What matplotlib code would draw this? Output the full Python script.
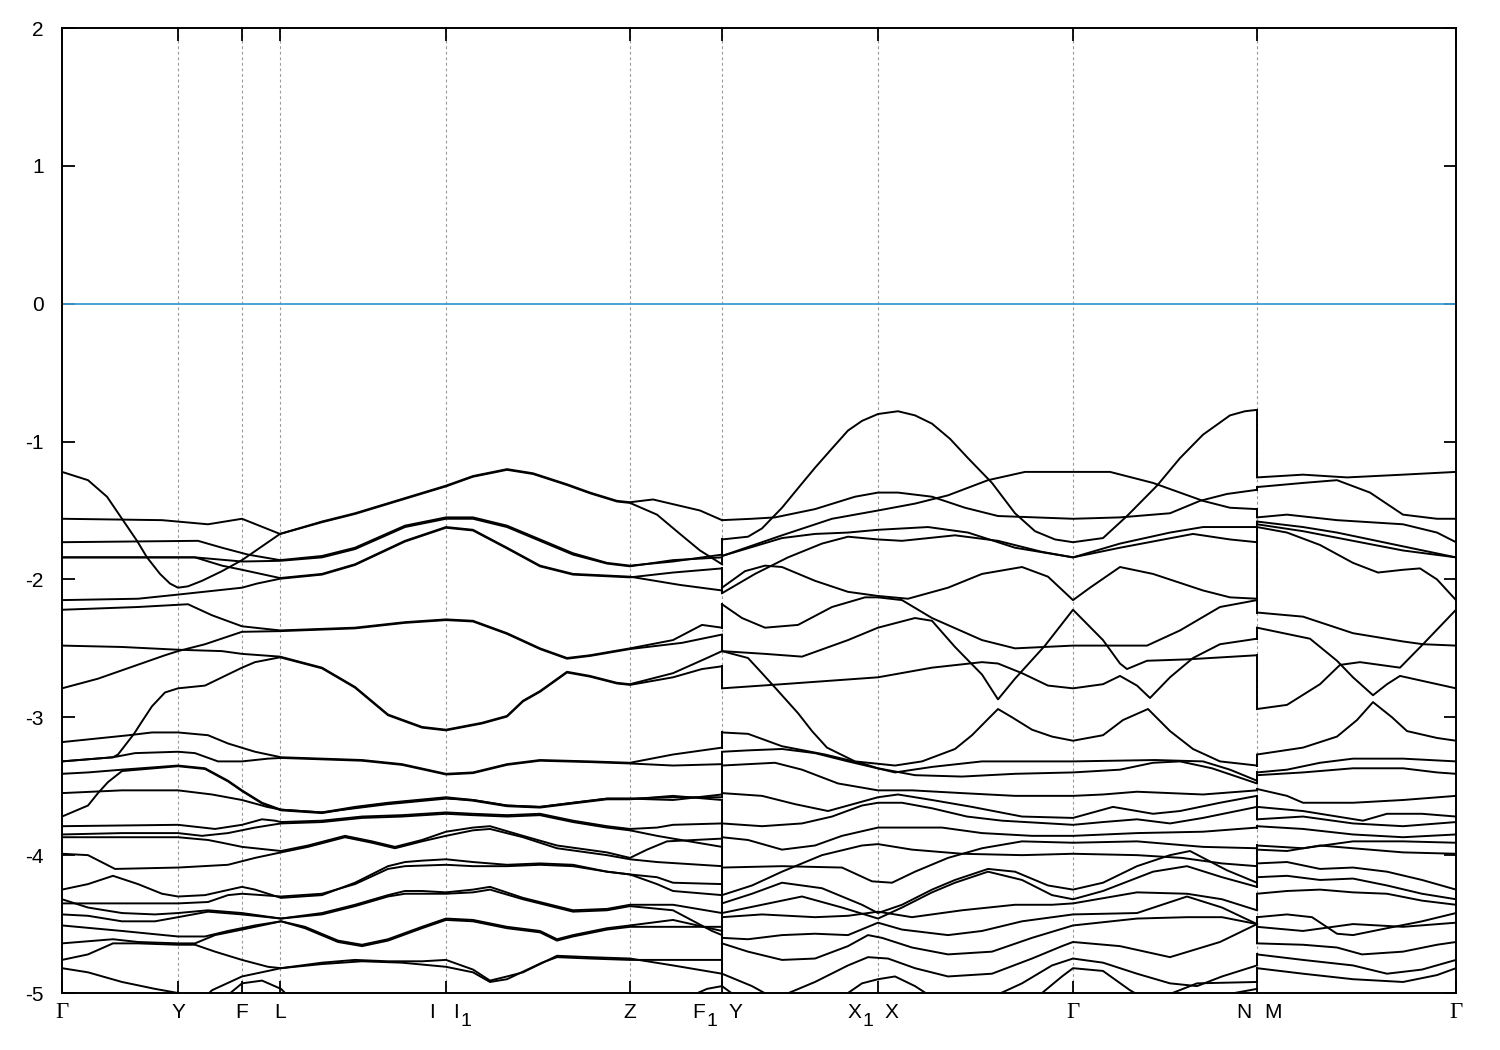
import matplotlib
matplotlib.use("Agg")
import matplotlib.pyplot as plt

plt.rcParams['font.family'] = ['Liberation Sans', 'DejaVu Sans']

# ---- k-path (path length units) ----
kpoint_pos = [0, 116, 180, 218, 384, 568, 660, 816, 1011, 1195, 1394]
kpoint_labels = ['Γ', 'Y', 'F', 'L', 'I I_1', 'Z', 'F_1 Y', 'X_1 X', 'Γ', 'N M', 'Γ']
breaks = [660, 1195]          # discontinuities F1|Y and N|M
fermi_level = 0.0
y_ticks = [-5, -4, -3, -2, -1, 0, 1, 2]

# ---- piece 1 : Γ - Y - F - L - I|I1 - Z - F1 ----
A  = [(0,-1.22),(26,-1.28),(45,-1.40),(60,-1.56),(75,-1.72),(85,-1.84),(98,-1.96),(108,-2.03),(116,-2.06),(126,-2.05),(140,-2.01),(160,-1.94),(180,-1.86),(218,-1.67),(260,-1.58),(293,-1.52),(343,-1.41),(384,-1.32),(411,-1.25),(445,-1.20),(471,-1.23),(505,-1.31),(528,-1.37),(555,-1.43),(568,-1.44),(591,-1.42),(638,-1.50),(660,-1.57)]
B  = [(0,-1.56),(100,-1.57),(146,-1.60),(180,-1.56),(218,-1.67),(260,-1.585),(293,-1.525),(343,-1.415),(384,-1.325),(411,-1.255),(445,-1.205),(471,-1.235),(505,-1.315),(528,-1.375),(555,-1.435),(568,-1.445),(595,-1.53),(618,-1.67),(638,-1.79),(660,-1.89)]
C  = [(0,-1.73),(136,-1.72),(160,-1.77),(186,-1.82),(218,-1.86),(260,-1.83),(293,-1.77),(343,-1.61),(384,-1.55),(411,-1.55),(445,-1.61),(478,-1.71),(511,-1.81),(545,-1.88),(568,-1.90),(611,-1.87),(660,-1.82)]
E  = [(0,-1.84),(133,-1.84),(180,-1.87),(218,-1.865),(260,-1.84),(293,-1.78),(343,-1.62),(384,-1.56),(411,-1.56),(445,-1.62),(478,-1.72),(511,-1.82),(545,-1.885),(568,-1.905),(611,-1.86),(660,-1.84)]
D  = [(0,-1.84),(133,-1.84),(160,-1.90),(180,-1.93),(218,-1.99),(260,-1.96),(293,-1.89),(343,-1.72),(384,-1.62),(411,-1.64),(445,-1.77),(478,-1.90),(511,-1.96),(568,-1.98),(618,-2.04),(660,-2.08)]
F0 = [(0,-2.15),(76,-2.14),(116,-2.11),(180,-2.06),(195,-2.03),(218,-1.995),(260,-1.965),(293,-1.895),(343,-1.725),(384,-1.625),(411,-1.645),(445,-1.775),(478,-1.905),(511,-1.965),(568,-1.985),(611,-1.95),(660,-1.92)]
Fb = [(0,-2.22),(76,-2.20),(126,-2.18),(150,-2.26),(180,-2.34),(218,-2.37),(293,-2.35),(343,-2.31),(384,-2.29),(411,-2.30),(445,-2.39),(478,-2.50),(505,-2.57),(528,-2.55),(568,-2.50),(611,-2.44),(640,-2.33),(660,-2.35)]
G  = [(0,-2.79),(36,-2.72),(103,-2.55),(116,-2.52),(143,-2.47),(180,-2.38),(218,-2.375),(293,-2.355),(343,-2.315),(384,-2.295),(411,-2.305),(445,-2.395),(478,-2.505),(505,-2.575),(528,-2.555),(568,-2.505),(620,-2.46),(660,-2.40)]
K  = [(0,-2.48),(60,-2.49),(116,-2.51),(160,-2.52),(180,-2.54),(218,-2.56),(260,-2.64),(293,-2.78),(326,-2.98),(360,-3.07),(384,-3.09),(420,-3.04),(445,-2.99),(461,-2.88),(478,-2.81),(505,-2.67),(528,-2.70),(555,-2.75),(568,-2.76),(611,-2.68),(645,-2.57),(660,-2.52)]
H  = [(0,-3.32),(51,-3.29),(56,-3.27),(72,-3.12),(80,-3.03),(90,-2.92),(103,-2.82),(116,-2.79),(143,-2.77),(180,-2.64),(193,-2.60),(218,-2.565),(260,-2.645),(293,-2.785),(326,-2.985),(360,-3.075),(384,-3.095),(420,-3.045),(445,-2.995),(461,-2.885),(478,-2.815),(505,-2.675),(528,-2.705),(555,-2.755),(568,-2.765),(611,-2.71),(640,-2.65),(660,-2.63)]
I1 = [(0,-3.18),(67,-3.13),(90,-3.11),(116,-3.11),(146,-3.13),(166,-3.19),(193,-3.25),(219,-3.29),(260,-3.30),(300,-3.31),(340,-3.34),(384,-3.41),(411,-3.40),(445,-3.34),(478,-3.31),(528,-3.32),(568,-3.33),(611,-3.27),(660,-3.22)]
I2 = [(0,-3.32),(51,-3.29),(73,-3.26),(116,-3.25),(133,-3.26),(156,-3.32),(180,-3.32),(206,-3.30),(219,-3.295),(260,-3.305),(300,-3.315),(340,-3.345),(384,-3.415),(411,-3.405),(445,-3.345),(478,-3.315),(528,-3.325),(568,-3.335),(611,-3.35),(660,-3.34)]
J  = [(0,-3.41),(26,-3.40),(60,-3.38),(116,-3.35),(143,-3.37),(166,-3.46),(180,-3.53),(200,-3.62),(219,-3.67),(260,-3.69),(293,-3.65),(326,-3.62),(384,-3.58),(411,-3.60),(445,-3.64),(478,-3.65),(511,-3.62),(545,-3.59),(568,-3.59),(611,-3.60),(660,-3.56)]
R1 = [(0,-3.72),(26,-3.64),(36,-3.55),(46,-3.47),(60,-3.39),(116,-3.355),(143,-3.375),(166,-3.465),(180,-3.535),(200,-3.625),(219,-3.675),(260,-3.695),(293,-3.655),(326,-3.625),(384,-3.585),(411,-3.605),(445,-3.645),(478,-3.655),(511,-3.625),(545,-3.595),(568,-3.595),(611,-3.57),(660,-3.60)]
Q4 = [(0,-3.55),(60,-3.53),(116,-3.53),(150,-3.56),(180,-3.60),(205,-3.65),(219,-3.67),(260,-3.69),(293,-3.66),(326,-3.63),(384,-3.59),(411,-3.60),(445,-3.64),(478,-3.65),(511,-3.62),(545,-3.59),(568,-3.59),(611,-3.58),(660,-3.58)]
L5 = [(0,-3.79),(116,-3.78),(153,-3.81),(180,-3.78),(200,-3.74),(213,-3.75),(219,-3.76),(260,-3.75),(300,-3.72),(340,-3.71),(384,-3.69),(411,-3.70),(445,-3.71),(478,-3.70),(511,-3.75),(545,-3.79),(568,-3.81),(595,-3.80),(611,-3.78),(660,-3.77)]
L6 = [(0,-3.85),(60,-3.84),(116,-3.84),(140,-3.86),(166,-3.84),(193,-3.80),(219,-3.77),(260,-3.76),(300,-3.73),(340,-3.72),(384,-3.70),(411,-3.71),(445,-3.72),(478,-3.71),(511,-3.76),(545,-3.80),(568,-3.82),(595,-3.86),(611,-3.88),(660,-3.94)]
L7 = [(0,-3.87),(116,-3.87),(146,-3.89),(160,-3.91),(180,-3.94),(219,-3.97),(246,-3.93),(283,-3.86),(310,-3.90),(333,-3.94),(360,-3.89),(384,-3.83),(411,-3.80),(428,-3.79),(461,-3.86),(495,-3.93),(545,-3.98),(568,-4.02),(585,-3.96),(605,-3.90),(660,-3.88)]
L8 = [(0,-3.99),(26,-4.00),(53,-4.10),(116,-4.09),(166,-4.07),(193,-4.02),(219,-3.98),(246,-3.94),(283,-3.87),(310,-3.91),(333,-3.95),(360,-3.90),(384,-3.86),(411,-3.82),(428,-3.81),(461,-3.87),(495,-3.95),(545,-4.00),(568,-4.03),(595,-4.05),(660,-4.08)]
M1 = [(0,-4.25),(26,-4.21),(51,-4.15),(76,-4.21),(100,-4.28),(116,-4.30),(143,-4.29),(180,-4.23),(193,-4.25),(219,-4.31),(260,-4.29),(293,-4.20),(326,-4.08),(343,-4.05),(360,-4.04),(384,-4.03),(411,-4.05),(445,-4.07),(478,-4.06),(511,-4.07),(545,-4.12),(568,-4.14),(595,-4.16),(611,-4.20),(660,-4.21)]
M2 = [(0,-4.35),(60,-4.35),(116,-4.35),(146,-4.34),(166,-4.29),(180,-4.28),(200,-4.29),(219,-4.30),(260,-4.28),(293,-4.21),(326,-4.10),(343,-4.08),(384,-4.07),(411,-4.08),(445,-4.08),(478,-4.07),(511,-4.08),(545,-4.12),(568,-4.14),(595,-4.21),(611,-4.26),(660,-4.29)]
M3 = [(0,-4.32),(26,-4.38),(60,-4.42),(93,-4.43),(116,-4.42),(146,-4.40),(180,-4.42),(219,-4.46),(260,-4.42),(293,-4.36),(326,-4.29),(343,-4.26),(360,-4.26),(384,-4.27),(411,-4.25),(428,-4.23),(461,-4.31),(511,-4.40),(545,-4.39),(568,-4.36),(611,-4.36),(660,-4.42)]
M4 = [(0,-4.43),(26,-4.44),(60,-4.48),(93,-4.48),(116,-4.45),(146,-4.41),(180,-4.43),(219,-4.46),(260,-4.43),(293,-4.37),(326,-4.30),(343,-4.28),(384,-4.28),(411,-4.27),(428,-4.25),(461,-4.32),(511,-4.41),(545,-4.40),(568,-4.37),(611,-4.40),(650,-4.55),(660,-4.58)]
M5 = [(0,-4.51),(60,-4.55),(116,-4.59),(143,-4.59),(166,-4.55),(193,-4.51),(219,-4.48),(243,-4.52),(276,-4.62),(300,-4.65),(326,-4.61),(360,-4.52),(384,-4.46),(411,-4.47),(445,-4.52),(478,-4.55),(495,-4.61),(511,-4.58),(545,-4.53),(568,-4.51),(611,-4.47),(660,-4.55)]
M6 = [(0,-4.64),(51,-4.61),(76,-4.63),(116,-4.64),(133,-4.64),(153,-4.58),(180,-4.54),(219,-4.48),(243,-4.53),(276,-4.63),(300,-4.66),(326,-4.62),(360,-4.53),(384,-4.47),(411,-4.48),(445,-4.53),(478,-4.56),(495,-4.62),(511,-4.59),(545,-4.54),(568,-4.52),(611,-4.52),(660,-4.52)]
M7 = [(0,-4.76),(26,-4.72),(51,-4.64),(76,-4.64),(116,-4.65),(133,-4.65),(153,-4.70),(180,-4.76),(206,-4.81),(219,-4.82),(260,-4.78),(293,-4.76),(326,-4.77),(360,-4.77),(384,-4.76),(411,-4.83),(428,-4.91),(445,-4.88),(461,-4.85),(495,-4.73),(528,-4.74),(568,-4.75),(611,-4.80),(660,-4.86)]
M8 = [(0,-4.82),(26,-4.85),(60,-4.92),(93,-4.97),(116,-5.00),(130,-5.05)]
M9 = [(140,-5.05),(150,-4.98),(180,-4.88),(219,-4.82),(260,-4.79),(300,-4.77),(340,-4.78),(384,-4.81),(411,-4.85),(428,-4.92),(445,-4.90),(480,-4.78),(495,-4.74),(528,-4.75),(568,-4.76),(611,-4.76),(660,-4.76)]
M10 = [(160,-5.05),(180,-4.93),(200,-4.91),(219,-4.97),(230,-5.05)]
M11 = [(620,-5.05),(645,-4.97),(660,-4.95)]
bands_gamma_f1 = [A, B, C, E, D, F0, Fb, G, K, H, I1, I2, J, R1, Q4, L5, L6, L7, L8,
                  M1, M2, M3, M4, M5, M6, M7, M8, M9, M10, M11]

# ---- piece 2 : Y - X1|X - Γ - N ----
P  = [(660,-1.57),(690,-1.56),(713,-1.55),(753,-1.49),(793,-1.40),(816,-1.37),(836,-1.37),(870,-1.40),(903,-1.48),(936,-1.54),(1011,-1.56),(1058,-1.55),(1108,-1.52),(1138,-1.43),(1165,-1.38),(1195,-1.35)]
T  = [(660,-1.71),(686,-1.69),(700,-1.63),(720,-1.48),(737,-1.33),(753,-1.19),(770,-1.05),(786,-0.92),(800,-0.85),(816,-0.80),(836,-0.78),(853,-0.81),(870,-0.87),(888,-0.98),(906,-1.12),(930,-1.30),(953,-1.52),(973,-1.65),(993,-1.71),(1011,-1.73),(1041,-1.70),(1065,-1.54),(1095,-1.32),(1118,-1.12),(1141,-0.95),(1168,-0.81),(1183,-0.78),(1195,-0.77)]
U  = [(660,-1.83),(720,-1.68),(770,-1.56),(816,-1.50),(853,-1.45),(886,-1.39),(926,-1.28),(963,-1.22),(1011,-1.22),(1048,-1.22),(1091,-1.30),(1141,-1.43),(1168,-1.48),(1195,-1.49)]
Q1 = [(660,-1.83),(720,-1.70),(753,-1.67),(786,-1.66),(816,-1.64),(866,-1.62),(906,-1.66),(953,-1.77),(1011,-1.84),(1058,-1.74),(1108,-1.66),(1141,-1.62),(1195,-1.62)]
Q2 = [(660,-2.10),(693,-1.96),(726,-1.84),(760,-1.74),(786,-1.69),(816,-1.71),(840,-1.72),(893,-1.68),(936,-1.72),(980,-1.80),(1011,-1.84),(1058,-1.77),(1131,-1.67),(1168,-1.71),(1195,-1.73)]
R  = [(660,-2.06),(683,-1.94),(703,-1.90),(720,-1.91),(753,-2.01),(786,-2.09),(816,-2.12),(846,-2.14),(886,-2.06),(920,-1.96),(960,-1.91),(986,-1.98),(1011,-2.15),(1028,-2.06),(1058,-1.91),(1091,-1.96),(1141,-2.08),(1168,-2.13),(1195,-2.14)]
S2 = [(660,-2.18),(680,-2.28),(703,-2.35),(736,-2.33),(770,-2.20),(803,-2.13),(816,-2.13),(840,-2.15),(870,-2.28),(920,-2.44),(953,-2.50),(1011,-2.48),(1048,-2.48),(1085,-2.48),(1118,-2.37),(1158,-2.20),(1195,-2.15)]
K1 = [(660,-2.52),(703,-2.54),(740,-2.56),(786,-2.44),(816,-2.35),(853,-2.28),(870,-2.30),(893,-2.49),(920,-2.69),(936,-2.87),(953,-2.72),(983,-2.48),(1011,-2.22),(1041,-2.44),(1058,-2.61),(1065,-2.65),(1085,-2.59),(1125,-2.58),(1195,-2.55)]
K2 = [(660,-2.52),(686,-2.57),(700,-2.68),(710,-2.76),(736,-2.97),(750,-3.10),(765,-3.22),(793,-3.32),(833,-3.35),(860,-3.32),(893,-3.23),(910,-3.13),(925,-3.02),(936,-2.94),(950,-3.00),(970,-3.09),(990,-3.14),(1011,-3.17),(1041,-3.13),(1061,-3.02),(1086,-2.94),(1108,-3.10),(1131,-3.23),(1158,-3.32),(1195,-3.35)]
K3 = [(660,-2.79),(720,-2.76),(816,-2.71),(870,-2.64),(920,-2.60),(936,-2.61),(960,-2.68),(986,-2.77),(1011,-2.79),(1041,-2.76),(1058,-2.70),(1075,-2.77),(1088,-2.86),(1108,-2.71),(1131,-2.57),(1158,-2.47),(1195,-2.43)]
N1 = [(660,-3.11),(686,-3.12),(720,-3.21),(763,-3.27),(803,-3.34),(816,-3.37),(853,-3.42),(900,-3.43),(953,-3.41),(1011,-3.40),(1058,-3.38),(1091,-3.33),(1118,-3.32),(1150,-3.37),(1195,-3.48)]
N2 = [(660,-3.25),(686,-3.24),(720,-3.23),(753,-3.26),(786,-3.32),(833,-3.40),(870,-3.36),(920,-3.32),(1011,-3.32),(1093,-3.31),(1141,-3.32),(1168,-3.38),(1195,-3.46)]
N3 = [(660,-3.35),(686,-3.34),(713,-3.33),(740,-3.38),(776,-3.48),(816,-3.53),(850,-3.53),(900,-3.55),(953,-3.57),(1011,-3.57),(1041,-3.56),(1075,-3.54),(1141,-3.56),(1195,-3.53)]
N4 = [(660,-3.55),(700,-3.57),(733,-3.63),(766,-3.68),(796,-3.62),(816,-3.58),(836,-3.56),(870,-3.60),(910,-3.65),(960,-3.72),(1011,-3.73),(1051,-3.65),(1091,-3.70),(1118,-3.68),(1158,-3.62),(1195,-3.57)]
N5 = [(660,-3.77),(700,-3.79),(740,-3.77),(770,-3.72),(800,-3.64),(816,-3.62),(840,-3.62),(870,-3.66),(905,-3.72),(940,-3.75),(1011,-3.78),(1041,-3.76),(1075,-3.74),(1108,-3.77),(1141,-3.73),(1195,-3.65)]
N6 = [(660,-3.87),(686,-3.89),(720,-3.96),(753,-3.93),(780,-3.86),(816,-3.80),(840,-3.80),(880,-3.80),(920,-3.84),(970,-3.86),(1011,-3.86),(1075,-3.84),(1141,-3.83),(1195,-3.80)]
N7 = [(660,-4.09),(720,-4.08),(780,-4.09),(810,-4.19),(830,-4.20),(853,-4.12),(886,-4.02),(920,-3.95),(960,-3.90),(1011,-3.91),(1075,-3.90),(1141,-3.94),(1195,-3.95)]
N7b = [(660,-4.29),(690,-4.22),(720,-4.12),(760,-4.00),(800,-3.93),(816,-3.92),(850,-3.96),(900,-3.99),(960,-4.00),(1011,-3.99),(1075,-4.00),(1120,-4.02),(1160,-4.06),(1195,-4.08)]
N8 = [(660,-4.35),(690,-4.28),(720,-4.20),(760,-4.24),(800,-4.36),(816,-4.42),(840,-4.36),(870,-4.25),(893,-4.18),(926,-4.10),(953,-4.12),(986,-4.22),(1011,-4.25),(1041,-4.20),(1075,-4.08),(1108,-4.00),(1128,-3.97),(1165,-4.11),(1195,-4.20)]
N9 = [(660,-4.42),(700,-4.36),(740,-4.30),(780,-4.38),(816,-4.46),(840,-4.38),(870,-4.27),(893,-4.20),(926,-4.12),(960,-4.18),(990,-4.29),(1011,-4.32),(1041,-4.26),(1091,-4.12),(1125,-4.08),(1160,-4.16),(1195,-4.23)]
N10 = [(660,-4.45),(700,-4.43),(753,-4.45),(786,-4.44),(816,-4.41),(850,-4.45),(900,-4.40),(953,-4.36),(990,-4.36),(1011,-4.35),(1075,-4.27),(1125,-4.28),(1160,-4.32),(1195,-4.40)]
N11 = [(660,-4.60),(686,-4.61),(720,-4.58),(753,-4.57),(786,-4.58),(806,-4.52),(816,-4.49),(840,-4.54),(886,-4.58),(920,-4.55),(960,-4.48),(1011,-4.43),(1075,-4.42),(1125,-4.30),(1160,-4.38),(1195,-4.50)]
N12 = [(660,-4.64),(686,-4.70),(720,-4.76),(753,-4.75),(786,-4.66),(806,-4.58),(820,-4.60),(850,-4.67),(886,-4.72),(930,-4.70),(970,-4.60),(1011,-4.51),(1075,-4.46),(1125,-4.45),(1160,-4.45),(1195,-4.50)]
N13 = [(720,-5.02),(753,-4.92),(786,-4.80),(806,-4.74),(826,-4.75),(853,-4.82),(886,-4.88),(930,-4.86),(970,-4.75),(1000,-4.66),(1011,-4.63),(1058,-4.66),(1108,-4.74),(1158,-4.63),(1195,-4.50)]
N14 = [(660,-4.86),(690,-4.95),(710,-5.03)]
N15 = [(780,-5.03),(800,-4.93),(816,-4.90),(833,-4.88),(853,-4.95),(870,-5.03)]
N16 = [(660,-4.95),(675,-5.03)]
N17 = [(930,-5.03),(960,-4.93),(990,-4.80),(1011,-4.75),(1041,-4.78),(1075,-4.86),(1108,-4.93),(1135,-4.95),(1160,-4.88),(1195,-4.80)]
N18 = [(975,-5.03),(1000,-4.88),(1011,-4.82),(1041,-4.84),(1068,-4.98),(1080,-5.03)]
N19 = [(1100,-5.03),(1135,-4.93),(1195,-4.92)]
N20 = [(1150,-5.03),(1195,-4.97)]
bands_y_n = [P, T, U, Q1, Q2, R, S2, K1, K2, K3, N1, N2, N3, N4, N5, N6, N7, N7b,
             N8, N9, N10, N11, N12, N13, N14, N15, N16, N17, N18, N19, N20]

# ---- piece 3 : M - Γ ----
Z1 = [(1195,-1.26),(1241,-1.24),(1285,-1.26),(1341,-1.24),(1394,-1.22)]
Z2 = [(1195,-1.33),(1241,-1.30),(1275,-1.28),(1308,-1.37),(1341,-1.53),(1375,-1.56),(1394,-1.56)]
Z3 = [(1195,-1.55),(1225,-1.53),(1275,-1.57),(1341,-1.60),(1375,-1.66),(1394,-1.73)]
Z4 = [(1195,-1.58),(1241,-1.62),(1275,-1.66),(1341,-1.76),(1394,-1.84)]
Z6 = [(1195,-1.60),(1241,-1.65),(1291,-1.72),(1341,-1.79),(1394,-1.84)]
Z5 = [(1195,-1.62),(1225,-1.66),(1258,-1.75),(1291,-1.88),(1316,-1.95),(1341,-1.93),(1358,-1.92),(1375,-2.00),(1394,-2.15)]
Z10 = [(1195,-2.24),(1241,-2.27),(1291,-2.39),(1341,-2.45),(1361,-2.47),(1394,-2.48)]
Z7 = [(1195,-2.35),(1248,-2.43),(1275,-2.59),(1291,-2.71),(1311,-2.84),(1325,-2.76),(1338,-2.70),(1394,-2.79)]
Z8 = [(1195,-2.94),(1225,-2.91),(1258,-2.76),(1278,-2.62),(1298,-2.60),(1338,-2.64),(1361,-2.47),(1394,-2.22)]
Z9 = [(1195,-3.27),(1241,-3.22),(1275,-3.14),(1295,-3.02),(1311,-2.89),(1330,-3.00),(1345,-3.10),(1375,-3.15),(1394,-3.17)]
W1 = [(1195,-3.40),(1225,-3.38),(1258,-3.33),(1291,-3.30),(1341,-3.30),(1394,-3.32)]
W2 = [(1195,-3.42),(1241,-3.40),(1291,-3.37),(1341,-3.37),(1375,-3.40),(1394,-3.41)]
W3 = [(1195,-3.52),(1225,-3.57),(1241,-3.62),(1291,-3.62),(1341,-3.60),(1394,-3.57)]
W4 = [(1195,-3.65),(1241,-3.68),(1301,-3.75),(1325,-3.70),(1360,-3.70),(1394,-3.72)]
W5 = [(1195,-3.74),(1241,-3.72),(1291,-3.77),(1341,-3.79),(1394,-3.76)]
W6 = [(1195,-3.79),(1241,-3.81),(1291,-3.85),(1341,-3.87),(1394,-3.85)]
W16 = [(1195,-3.93),(1241,-3.95),(1291,-3.90),(1341,-3.90),(1394,-3.91)]
W7 = [(1195,-3.96),(1225,-3.97),(1258,-3.93),(1291,-3.95),(1341,-3.98),(1394,-3.99)]
W8 = [(1195,-4.06),(1225,-4.05),(1258,-4.10),(1291,-4.09),(1325,-4.12),(1360,-4.18),(1394,-4.25)]
W9 = [(1195,-4.16),(1225,-4.15),(1258,-4.18),(1291,-4.17),(1325,-4.22),(1360,-4.28),(1394,-4.32)]
W10 = [(1195,-4.28),(1225,-4.26),(1258,-4.25),(1291,-4.27),(1325,-4.28),(1360,-4.33),(1394,-4.36)]
W11 = [(1195,-4.45),(1225,-4.43),(1250,-4.45),(1275,-4.57),(1291,-4.58),(1325,-4.53),(1360,-4.48),(1394,-4.42)]
W17 = [(1195,-4.52),(1241,-4.55),(1291,-4.50),(1341,-4.52),(1394,-4.49)]
W12 = [(1195,-4.64),(1241,-4.65),(1275,-4.67),(1300,-4.72),(1341,-4.70),(1375,-4.65),(1394,-4.63)]
W13 = [(1195,-4.72),(1241,-4.76),(1291,-4.80),(1325,-4.86),(1360,-4.83),(1394,-4.76)]
W14 = [(1195,-4.82),(1241,-4.86),(1291,-4.90),(1341,-4.92),(1375,-4.87),(1394,-4.82)]
bands_m_gamma = [Z1, Z2, Z3, Z4, Z6, Z5, Z10, Z7, Z8, Z9, W1, W2, W3, W4, W5, W6, W16,
                 W7, W8, W9, W10, W11, W17, W12, W13, W14]

# ---------------- figure ----------------
fig = plt.figure(figsize=(15, 10.5), dpi=100)
ax = fig.add_axes([62/1500, 1-993/1050, (1456-62)/1500, (993-28)/1050])
LW = 1.4

for k in kpoint_pos[1:-1]:
    ax.axvline(k, color='#9a9a9a', lw=0.8, ls=(0, (2.5, 2.5)), zorder=1)

ax.axhline(fermi_level, color='#3d9bd6', lw=1.3, zorder=2)

for piece in (bands_gamma_f1, bands_y_n, bands_m_gamma):
    for band in piece:
        ks = [p[0] for p in band]
        es = [p[1] for p in band]
        ax.plot(ks, es, color='black', lw=LW, solid_joinstyle='round', zorder=3)

# vertical joins at the path discontinuities (bands ordered by energy)
def joins(left, right, kb):
    le = sorted([b[-1][1] for b in left if b[-1][0] == kb], reverse=True)
    re_ = sorted([b[0][1] for b in right if b[0][0] == kb], reverse=True)
    for a, b in zip(le, re_):
        ax.plot([kb, kb], [a, b], color='black', lw=LW, zorder=3)

joins(bands_gamma_f1, bands_y_n, breaks[0])
joins(bands_y_n, bands_m_gamma, breaks[1])

ax.set_xlim(kpoint_pos[0], kpoint_pos[-1])
ax.set_ylim(-5, 2)
ax.set_yticks(y_ticks)
ax.set_yticklabels([str(v) for v in y_ticks])
ax.set_xticks(kpoint_pos)
ax.set_xticklabels([''] * len(kpoint_pos))
ax.tick_params(axis='both', direction='in', length=9, width=1.3,
               top=True, right=True, labelsize=15, colors='black')
ax.tick_params(axis='y', pad=13)
for s in ax.spines.values():
    s.set_linewidth(1.4)

# ---- x labels drawn as text (letters with full-height lowered subscripts) ----
PT = 0.72           # points per pixel at 100 dpi
FS = 15
Y_MAIN = -20 * PT
Y_SUB = -29 * PT


def put(k, dx_px, dy_pt, txt, ha, family=None, size=FS):
    kw = {}
    if family:
        kw['fontfamily'] = family
    ax.annotate(txt, xy=(k, 0), xycoords=('data', 'axes fraction'),
                xytext=(dx_px * PT, dy_pt), textcoords='offset points',
                ha=ha, va='center', fontsize=size, **kw)


def put_part(k, edge_px, part, side):
    main, sub = (part.split('_') + [None])[:2]
    fam = ['Liberation Serif', 'DejaVu Serif'] if main == 'Γ' else None
    if side == 'left':
        if sub:
            put(k, edge_px, Y_SUB, sub, 'right', size=FS - 1)
            put(k, edge_px - 12, Y_MAIN, main, 'right', fam)
        else:
            put(k, edge_px, Y_MAIN, main, 'right', fam)
    else:
        put(k, edge_px, Y_MAIN, main, 'left', fam)
        if sub:
            put(k, edge_px + (7 if main == 'I' else 14), Y_SUB, sub, 'left', size=FS - 1)


for k, lab in zip(kpoint_pos, kpoint_labels):
    parts = lab.split(' ')
    if len(parts) == 1:
        if lab == 'Γ':
            put(k, 0, Y_MAIN, lab, 'center', ['Liberation Serif', 'DejaVu Serif'], FS + 1.5)
        else:
            put(k, 0, Y_MAIN, lab, 'center')
    else:
        left_gap = -11 if parts[0] == 'I' else -5
        put_part(k, left_gap, parts[0], 'left')
        put_part(k, 7, parts[1], 'right')

fig.savefig('out.png', dpi=100, facecolor='white')
